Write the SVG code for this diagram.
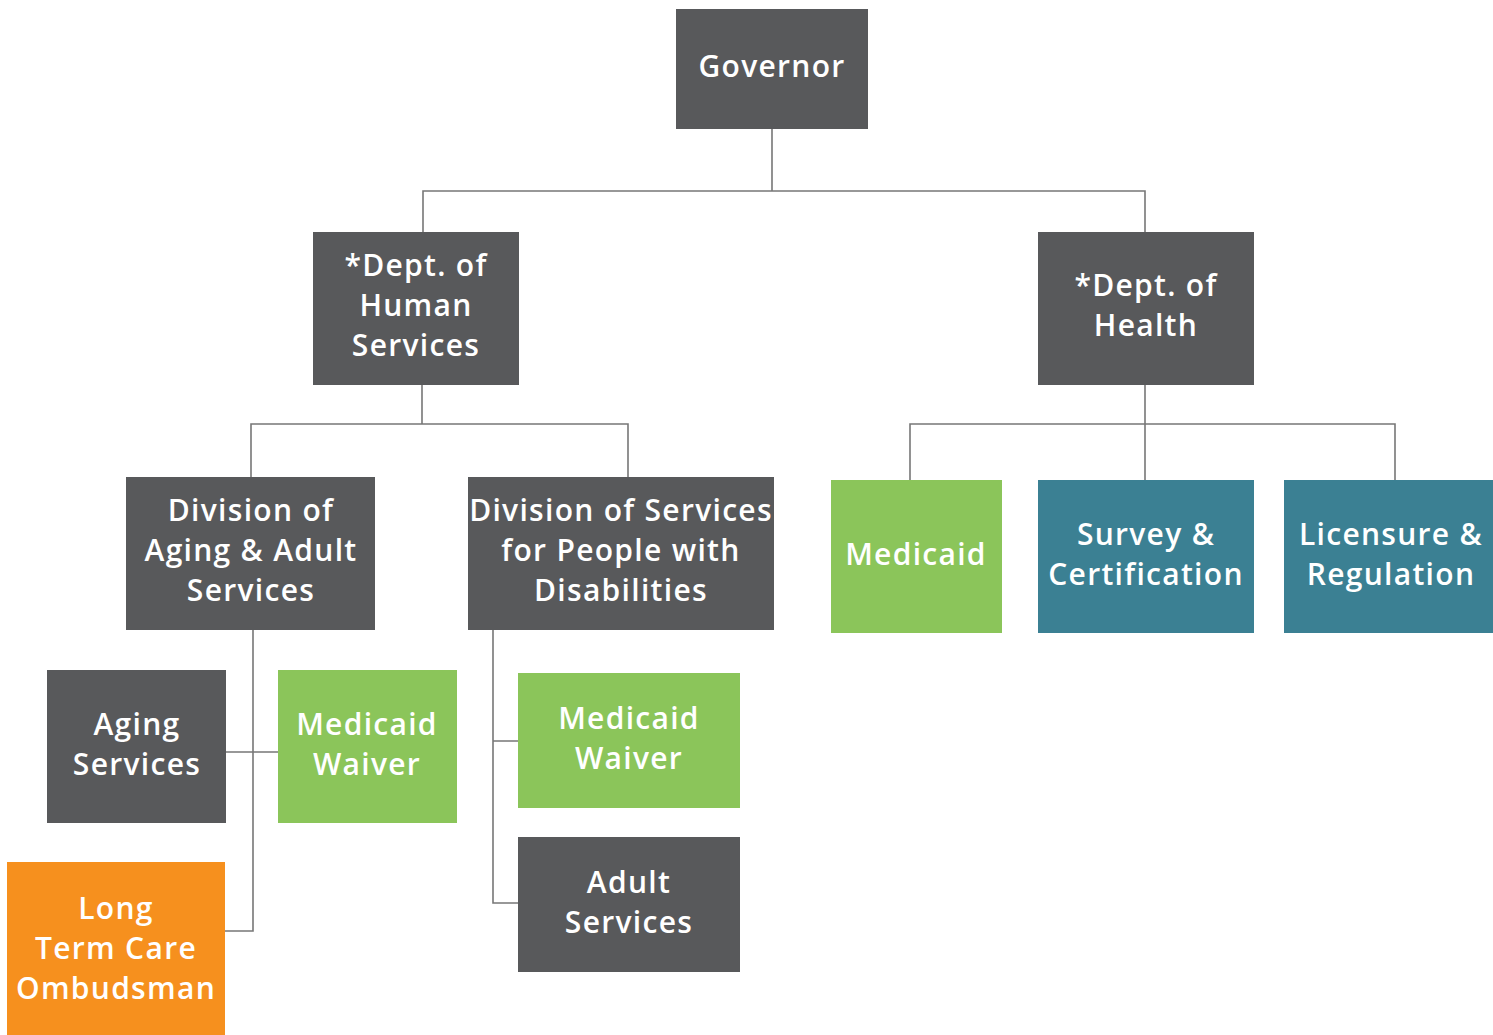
<svg xmlns="http://www.w3.org/2000/svg" width="1493" height="1035" viewBox="0 0 1493 1035">
<style>
.gray{fill:#58595b}
.green{fill:#8bc55a}
.teal{fill:#3b8093}
.orange{fill:#f6901e}
text{fill:#ffffff;font-family:"Open Sans","Liberation Sans",sans-serif;font-size:30px;font-weight:600;text-anchor:middle;letter-spacing:1.3px}
.conn{fill:none;stroke:#777777;stroke-width:1.6}
</style>
<rect width="1493" height="1035" fill="#ffffff"/>
<g id="connectors" class="conn">
<path d="M772 129V191M423 232V191H1145V232"/>
<path d="M422 385V424M251 477V424H628V477"/>
<path d="M1145 385V480M910 480V424H1395V480"/>
<path d="M253 630V931H225M226 752H278"/>
<path d="M493 630V903H518M493 741H518"/>
</g>
<g id="governor"><rect class="gray" x="676" y="9" width="192" height="120"/><text x="772" y="77">Governor</text></g>
<g id="dhs"><rect class="gray" x="313" y="232" width="206" height="153"/><text x="416" y="276">*Dept. of</text><text x="416" y="316">Human</text><text x="416" y="356">Services</text></g>
<g id="doh"><rect class="gray" x="1038" y="232" width="216" height="153"/><text x="1146" y="296">*Dept. of</text><text x="1146" y="336">Health</text></g>
<g id="daas"><rect class="gray" x="126" y="477" width="249" height="153"/><text x="251" y="521">Division of</text><text x="251" y="561">Aging &amp; Adult</text><text x="251" y="601">Services</text></g>
<g id="dspd"><rect class="gray" x="468" y="477" width="306" height="153"/><text x="621" y="521">Division of Services</text><text x="621" y="561">for People with</text><text x="621" y="601">Disabilities</text></g>
<g id="medicaid"><rect class="green" x="831" y="480" width="171" height="153"/><text x="916" y="565">Medicaid</text></g>
<g id="survey"><rect class="teal" x="1038" y="480" width="216" height="153"/><text x="1146" y="545">Survey &amp;</text><text x="1146" y="585">Certification</text></g>
<g id="licensure"><rect class="teal" x="1284" y="480" width="209" height="153"/><text x="1391" y="545">Licensure &amp;</text><text x="1391" y="585">Regulation</text></g>
<g id="aging"><rect class="gray" x="47" y="670" width="179" height="153"/><text x="137" y="735">Aging</text><text x="137" y="775">Services</text></g>
<g id="mw1"><rect class="green" x="278" y="670" width="179" height="153"/><text x="367" y="735">Medicaid</text><text x="367" y="775">Waiver</text></g>
<g id="ltc"><rect class="orange" x="7" y="862" width="218" height="173"/><text x="116" y="919">Long</text><text x="116" y="959">Term Care</text><text x="116" y="999">Ombudsman</text></g>
<g id="mw2"><rect class="green" x="518" y="673" width="222" height="135"/><text x="629" y="729">Medicaid</text><text x="629" y="769">Waiver</text></g>
<g id="adult"><rect class="gray" x="518" y="837" width="222" height="135"/><text x="629" y="893">Adult</text><text x="629" y="933">Services</text></g>
</svg>
